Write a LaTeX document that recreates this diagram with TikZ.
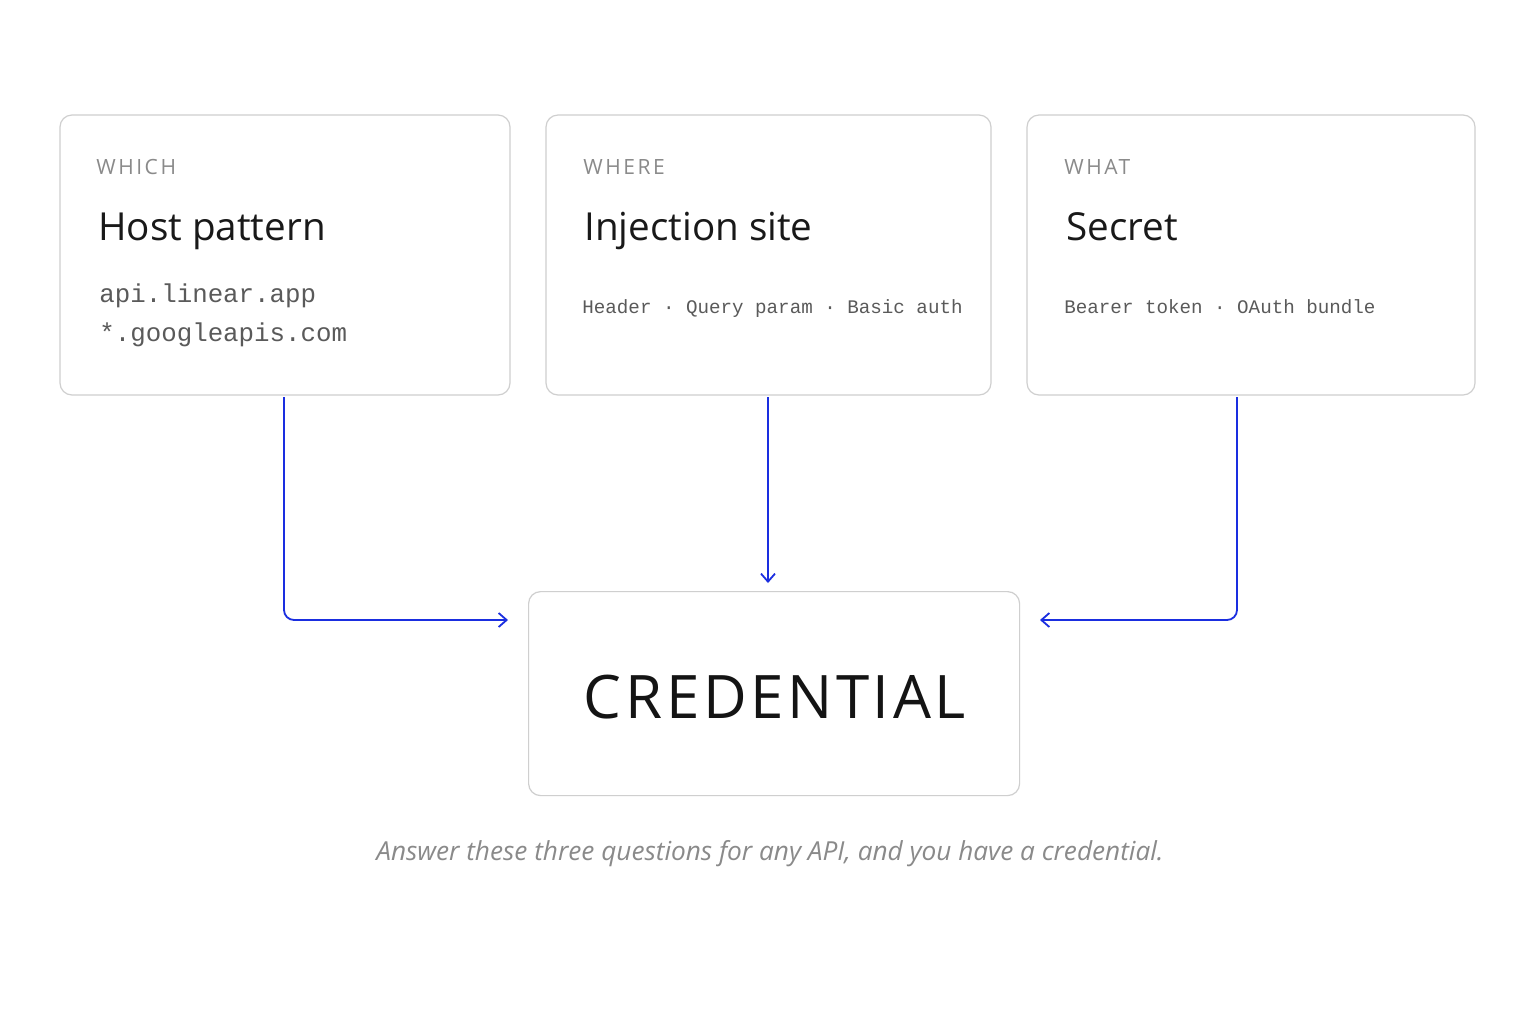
\documentclass[tikz,border=0pt]{standalone}
\usepackage{fontspec}
\setmainfont{Open Sans}
\newfontfamily\labfont[LetterSpace=12]{Open Sans}
\newfontfamily\credfont[LetterSpace=6]{Open Sans}
\setmonofont{Liberation Mono}
\usetikzlibrary{arrows.meta}
\definecolor{bord}{HTML}{CFCFCF}
\definecolor{arr}{HTML}{1A2EE0}
\definecolor{lab}{HTML}{8A8A8A}
\definecolor{mono}{HTML}{5A5A5A}
\tikzset{
  card/.style={draw=bord,line width=0.6pt,rounded corners=6pt},
  lbl/.style={anchor=base west,font=\labfont\fontsize{10.5}{12}\selectfont,text=lab,inner sep=0},
  ttl/.style={anchor=base west,font=\fontsize{19.3}{22}\selectfont,text=black!90,inner sep=0},
  mon/.style={anchor=base west,font=\ttfamily\fontsize{12.9}{15}\selectfont,text=mono,inner sep=0},
  mons/.style={anchor=base west,font=\ttfamily\fontsize{9.6}{12}\selectfont,text=mono,inner sep=0},
  conn/.style={draw=arr,line width=0.9pt,rounded corners=5pt,-{Straight Barb[length=4pt,width=7pt]}}
}
\begin{document}
\begin{tikzpicture}[x=0.5pt,y=-0.5pt]
\useasboundingbox[fill=white] (0,0) rectangle (1536,1024);
\draw[card] (60,115) rectangle (510,395);
\draw[card] (546,115) rectangle (991,395);
\draw[card] (1027,115) rectangle (1475,395);
\node[card,minimum width=245.5pt,minimum height=102pt,anchor=north west] (cred) at (528,591) {};
\node[font=\credfont\fontsize{30}{34}\selectfont,text=black!92] at (775,697) {CREDENTIAL};
\coordinate (b1) at (284,397);
\coordinate (b2) at (768,397);
\coordinate (b3) at (1237,397);
\coordinate (c1) at (508,620);
\coordinate (c2) at (768,583);
\coordinate (c3) at (1040,620);
\node[lbl] at (96,174) {WHICH};
\node[ttl] at (98,240) {Host pattern};
\node[mon] at (99,302) {api.linear.app};
\node[mon] at (99,341) {*.googleapis.com};
\node[lbl] at (583,174) {WHERE};
\node[ttl] at (584,240) {Injection site};
\node[mons] at (582,313) {Header · Query param · Basic auth};
\node[lbl] at (1064,174) {WHAT};
\node[ttl] at (1066,240) {Secret};
\node[mons] at (1064,313) {Bearer token · OAuth bundle};
\draw[conn] (b1) |- (c1);
\draw[conn] (b2) -- (c2);
\draw[conn] (b3) |- (c3);
\node[font=\itshape\fontsize{13.1}{15}\selectfont,text=lab] (cap) at (770,854) {Answer these three questions for any API, and you have a credential.};
\end{tikzpicture}
\end{document}
